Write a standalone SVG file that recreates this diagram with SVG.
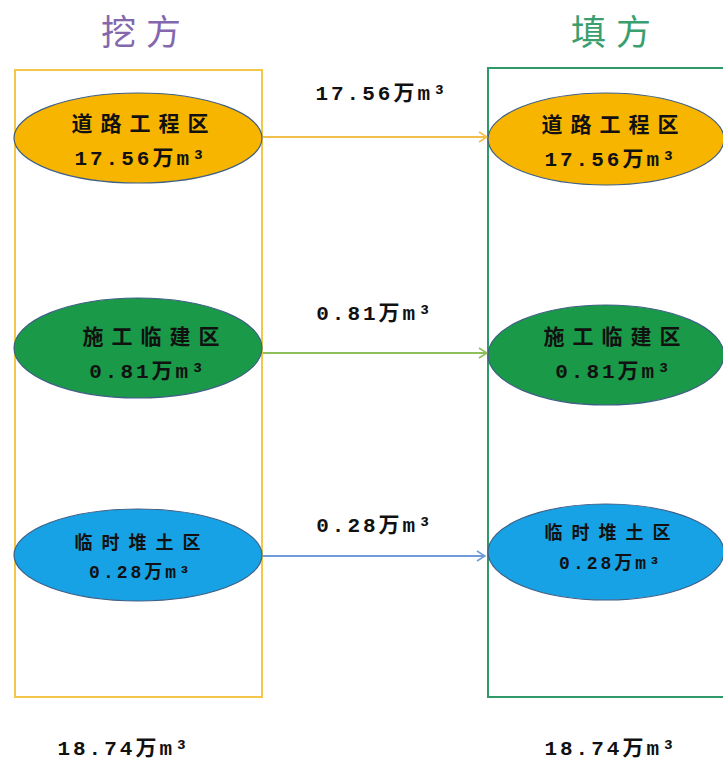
<svg xmlns="http://www.w3.org/2000/svg" width="723" height="760" viewBox="0 0 723 760">
<defs>
<style>
.t{font-family:"Liberation Mono","Noto Sans CJK SC",monospace;font-weight:bold;fill:#111;text-anchor:middle}
.n{font-size:21px;letter-spacing:3px}
.z{font-size:21px;letter-spacing:8px}
.s{font-size:18px;letter-spacing:3px}
.sz{font-size:18px;letter-spacing:9px}
.h{font-family:"Noto Sans CJK SC",sans-serif;font-size:35px;text-anchor:middle;letter-spacing:10px}
.e{stroke:#3f5f85;stroke-width:1.2}
.c{fill:none;stroke-width:2}
</style>
<marker id="ao" markerWidth="10" markerHeight="12" refX="9" refY="6" orient="auto" markerUnits="userSpaceOnUse"><path d="M1,1 L9,6 L1,11" fill="none" stroke="#f2c04a" stroke-width="1.6"/></marker>
<marker id="ag" markerWidth="10" markerHeight="12" refX="9" refY="6" orient="auto" markerUnits="userSpaceOnUse"><path d="M1,1 L9,6 L1,11" fill="none" stroke="#8fbf5a" stroke-width="1.6"/></marker>
<marker id="ab" markerWidth="10" markerHeight="12" refX="9" refY="6" orient="auto" markerUnits="userSpaceOnUse"><path d="M1,1 L9,6 L1,11" fill="none" stroke="#6f9cd6" stroke-width="1.6"/></marker>
</defs>
<rect width="723" height="760" fill="#fff"/>
<text class="h" x="146" y="45" fill="#8468ad">挖方</text>
<text class="h" x="616" y="45" fill="#3a9e6e">填方</text>
<g id="dig-box"><rect x="15" y="70" width="247" height="627" fill="none" stroke="#f3c84a" stroke-width="2"/></g>
<g id="fill-box"><rect x="488" y="68" width="240" height="629" fill="none" stroke="#2e9a6a" stroke-width="2"/></g>
<g id="connectors">
<line class="c" x1="263" y1="137" x2="487" y2="137" stroke="#f2c04a" marker-end="url(#ao)"/>
<line class="c" x1="263" y1="353" x2="487" y2="353" stroke="#8fbf5a" marker-end="url(#ag)"/>
<line class="c" x1="263" y1="556" x2="485" y2="556" stroke="#6f9cd6" marker-end="url(#ab)"/>
<text class="t n" x="382" y="100">17.56万m³</text>
<text class="t n" x="375" y="320">0.81万m³</text>
<text class="t n" x="375" y="532">0.28万m³</text>
</g>
<g id="dig-road">
<ellipse class="e" cx="138" cy="138" rx="124" ry="45" fill="#f7b500"/>
<text class="t z" x="144" y="131">道路工程区</text>
<text class="t n" x="141" y="165">17.56万m³</text>
</g>
<g id="fill-road">
<ellipse class="e" cx="606" cy="139" rx="118" ry="46" fill="#f7b500"/>
<text class="t z" x="614" y="132">道路工程区</text>
<text class="t n" x="611" y="166">17.56万m³</text>
</g>
<g id="dig-camp">
<ellipse class="e" cx="138" cy="348" rx="124" ry="50" fill="#1a9948"/>
<text class="t z" x="155" y="344">施工临建区</text>
<text class="t n" x="148" y="378">0.81万m³</text>
</g>
<g id="fill-camp">
<ellipse class="e" cx="606" cy="355" rx="118" ry="50" fill="#1a9948"/>
<text class="t z" x="616" y="344">施工临建区</text>
<text class="t n" x="614" y="378">0.81万m³</text>
</g>
<g id="dig-stock">
<ellipse class="e" cx="138" cy="555" rx="124" ry="46" fill="#17a2e6"/>
<text class="t sz" x="142" y="549">临时堆土区</text>
<text class="t s" x="141" y="578">0.28万m³</text>
</g>
<g id="fill-stock">
<ellipse class="e" cx="606" cy="552" rx="118" ry="48" fill="#17a2e6"/>
<text class="t sz" x="612" y="539">临时堆土区</text>
<text class="t s" x="611" y="569">0.28万m³</text>
</g>
<text class="t n" x="124" y="755">18.74万m³</text>
<text class="t n" x="611" y="755">18.74万m³</text>
</svg>
